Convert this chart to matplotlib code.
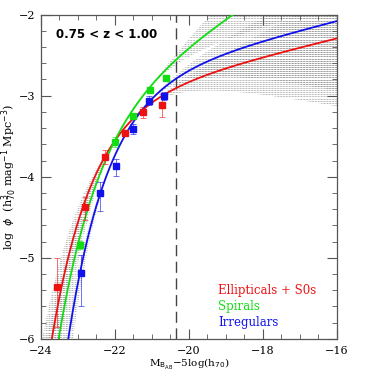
import numpy as np
import matplotlib
matplotlib.use("Agg")
import matplotlib.pyplot as plt
from matplotlib.patches import Polygon
from matplotlib.ticker import MultipleLocator

# Schechter fits: M*, alpha, log phi*
fit_mstar = [-21.66, -21.55, -21.13]
fit_alpha = [-1.28, -1.73, -1.29]
fit_logphi = [-2.889, -2.730, -2.635]
# range of alpha used for the grey confidence bands
band_alpha = [(-1.6, -0.8), (-2.2, -1.3), (-1.6, -0.8)]
colors = ["#ee1111", "#11dd11", "#1111ee"]
names = ["Ellipticals + S0s", "Spirals", "Irregulars"]

# data points
ell_m = [-23.55, -22.80, -22.27, -21.73, -21.23, -20.73]
ell_phi = [-5.36, -4.37, -3.76, -3.46, -3.205, -3.11]
ell_lo = [-5.85, -4.53, -3.84, -3.50, -3.27, -3.26]
ell_hi = [-5.00, -4.25, -3.67, -3.42, -3.14, -2.98]

sp_m = [-22.95, -21.99, -21.52, -21.06, -20.62]
sp_phi = [-4.84, -3.57, -3.25, -2.93, -2.785]
sp_lo = [-4.89, -3.63, -3.28, -2.97, -2.825]
sp_hi = [-4.79, -3.51, -3.22, -2.89, -2.745]

irr_m = [-22.90, -22.40, -21.96, -21.52, -21.08, -20.67]
irr_phi = [-5.19, -4.20, -3.87, -3.41, -3.06, -3.00]
irr_lo = [-5.60, -4.42, -3.99, -3.47, -3.11, -3.05]
irr_hi = [-4.97, -4.06, -3.78, -3.35, -3.01, -2.95]

m_limit = -20.35
pivots = (-22.05, -21.0)

LN10 = np.log(10)


def schechter(m, mstar, alpha, a0):
    u = 0.4 * (mstar - m)
    return a0 + (alpha + 1) * u - 10 ** u / LN10


def pinned(alpha, mstar, nom_alpha, a0):
    # curve with a different slope going through the nominal fit at both pivots
    p1, p2 = pivots
    y1 = schechter(p1, mstar, nom_alpha, a0)
    y2 = schechter(p2, mstar, nom_alpha, a0)
    a = alpha + 1
    k = (10 ** (0.4 * (p2 - p1)) - 1) / LN10
    t = (0.4 * (p2 - p1) * a - (y1 - y2)) / k
    u2 = np.log10(t)
    ms = p2 + u2 / 0.4
    a0n = y2 - a * u2 + t / LN10
    return ms, a0n


plt.figure(figsize=(3.74, 3.74), dpi=100)
ax = plt.axes([0.109, 0.094, 0.792, 0.867])
ax.set_xlim(-24, -16)
ax.set_ylim(-6, -2)

mm = np.linspace(-24.5, -15.5, 600)
levels = np.arange(-6.0, -1.99, 0.026)
for i in range(3):
    a0 = fit_logphi[i] + np.log10(0.4 * LN10)
    curves = []
    for al in np.linspace(band_alpha[i][0], band_alpha[i][1], 25):
        ms, a0n = pinned(al, fit_mstar[i], fit_alpha[i], a0)
        curves.append(schechter(mm, ms, al, a0n))
    curves.append(schechter(mm, fit_mstar[i], fit_alpha[i], a0))
    curves = np.array(curves)
    lo = curves.min(axis=0)
    hi = curves.max(axis=0)
    poly = Polygon(np.column_stack([np.concatenate([mm, mm[::-1]]),
                                    np.concatenate([hi, lo[::-1]])]),
                   closed=True, transform=ax.transData)
    lines = ax.hlines(levels, -24, -16, colors="#8a8a8a", linewidth=0.55,
                      linestyles=(0, (1.0, 1.0)), zorder=1)
    lines.set_clip_path(poly)

for i in range(3):
    a0 = fit_logphi[i] + np.log10(0.4 * LN10)
    ax.plot(mm, schechter(mm, fit_mstar[i], fit_alpha[i], a0), color=colors[i], lw=1.3, zorder=3)

sets = [(ell_m, ell_phi, ell_lo, ell_hi), (sp_m, sp_phi, sp_lo, sp_hi), (irr_m, irr_phi, irr_lo, irr_hi)]
for i, (m, p, lo, hi) in enumerate(sets):
    m = np.array(m)
    p = np.array(p)
    err = [p - np.array(lo), np.array(hi) - p]
    ax.errorbar(m, p, yerr=err, fmt="none", ecolor=colors[i], alpha=0.6, elinewidth=0.7,
                capsize=2.2, capthick=0.7, zorder=4)
    ax.plot(m, p, "s", color=colors[i], ms=4.5, zorder=5)

ax.axvline(m_limit, color="#444444", lw=1.0, dashes=(8, 4), zorder=2)

ax.text(-23.6, -2.24, "0.75 < z < 1.00", fontsize=8.5, fontweight="bold", va="center")
for i in range(3):
    ax.text(-19.2, -5.40 - 0.20 * i, names[i], color=colors[i], fontsize=8.5,
            family="DejaVu Serif", va="center")

ax.xaxis.set_major_locator(MultipleLocator(2))
ax.xaxis.set_minor_locator(MultipleLocator(0.5))
ax.yaxis.set_major_locator(MultipleLocator(1))
ax.yaxis.set_minor_locator(MultipleLocator(0.2))
ax.tick_params(which="both", direction="in", top=True, right=True, color="#555555")
ax.tick_params(which="major", length=7, width=0.8, labelsize=8)
ax.tick_params(axis="x", which="major", pad=5)
ax.tick_params(axis="y", which="major", pad=4)
ax.tick_params(which="minor", length=3.5, width=0.6)
for lab in ax.get_xticklabels() + ax.get_yticklabels():
    lab.set_family("DejaVu Serif")
for s in ax.spines.values():
    s.set_color("#555555")
    s.set_linewidth(0.9)

ax.set_xlabel(r"M$_{\mathrm{B_{AB}}}$$-$5log(h$_{70}$)", family="DejaVu Serif", fontsize=7.5)
ax.set_ylabel(r"log  $\phi$  (h$^{3}_{70}$ mag$^{-1}$ Mpc$^{-3}$)", family="DejaVu Serif", fontsize=8)
ax.xaxis.set_label_coords(0.5, -0.055)
ax.yaxis.set_label_coords(-0.075, 0.5)

plt.savefig("out.png", dpi=100)
